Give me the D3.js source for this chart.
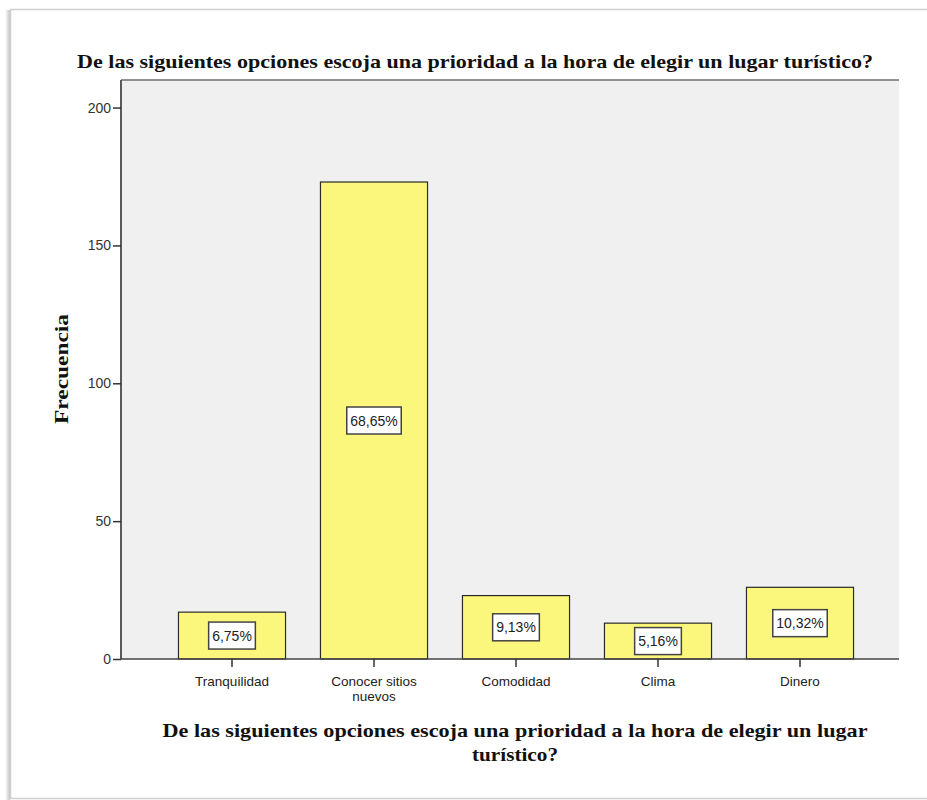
<!DOCTYPE html>
<html>
<head>
<meta charset="utf-8">
<script src="https://cdn.jsdelivr.net/npm/d3@7"></script>
<style>
  html, body { margin: 0; padding: 0; background: #fff; }
  svg { display: block; }
</style>
</head>
<body>
<svg id="chart" width="927" height="800"></svg>
<script>
// Frequency of each travel priority
const categories = ["Tranquilidad", "Conocer sitios nuevos", "Comodidad", "Clima", "Dinero"];
const categoryLines = [["Tranquilidad"], ["Conocer sitios", "nuevos"], ["Comodidad"], ["Clima"], ["Dinero"]];
const frequencies = [17, 173, 23, 13, 26];
const percentLabels = ["6,75%", "68,65%", "9,13%", "5,16%", "10,32%"];
const yTicks = [0, 50, 100, 150, 200];

const titleText = "De las siguientes opciones escoja una prioridad a la hora de elegir un lugar turístico?";
const xTitleLines = ["De las siguientes opciones escoja una prioridad a la hora de elegir un lugar", "turístico?"];
const yTitleText = "Frecuencia";

const svg = d3.select("#chart");

// card frame with soft left shadow
const defs = svg.append("defs");
const grad = defs.append("linearGradient").attr("id", "shadowL").attr("x1", 0).attr("x2", 1);
grad.append("stop").attr("offset", 0).attr("stop-color", "#ffffff");
grad.append("stop").attr("offset", 1).attr("stop-color", "#c4c4c4");
svg.append("rect").attr("x", 5).attr("y", 10).attr("width", 5).attr("height", 790).attr("fill", "url(#shadowL)");
svg.append("rect").attr("x", 10.5).attr("y", 9.5).attr("width", 930).attr("height", 789)
  .attr("fill", "#fff").attr("stroke", "#cfcfcf").attr("stroke-width", 1.5);

const plot = { left: 121, right: 899, top: 80, bottom: 659 };

const x = d3.scaleBand()
  .domain(categories)
  .range([161, 871])
  .paddingInner(0.246)
  .paddingOuter(0.123);

const y = d3.scaleLinear()
  .domain([0, 210])
  .range([plot.bottom, plot.top]);

// plot background
svg.append("rect")
  .attr("x", plot.left).attr("y", plot.top)
  .attr("width", plot.right - plot.left).attr("height", plot.bottom - plot.top)
  .attr("fill", "#f0f0f0");
svg.append("line")
  .attr("x1", plot.left).attr("x2", plot.right)
  .attr("y1", plot.top).attr("y2", plot.top)
  .attr("stroke", "#6e6e6e").attr("stroke-width", 1.5);

// bars
const bars = svg.append("g");
bars.selectAll("rect")
  .data(categories)
  .join("rect")
  .attr("x", d => x(d))
  .attr("y", (d, i) => y(frequencies[i]))
  .attr("width", x.bandwidth())
  .attr("height", (d, i) => y(0) - y(frequencies[i]))
  .attr("fill", "#fbf77c")
  .attr("stroke", "#2a2a2a")
  .attr("stroke-width", 1.2);

const sans = "Liberation Sans, Arial, sans-serif";
const serif = "Liberation Serif, Times New Roman, serif";

// y axis
const yAxis = d3.axisLeft(y).tickValues(yTicks).tickSize(8).tickPadding(2);
const gy = svg.append("g").attr("transform", `translate(${plot.left},0)`).call(yAxis);
gy.select(".domain").attr("d", `M0,${plot.top}V${plot.bottom}`).attr("stroke", "#5a5a5a").attr("stroke-width", 2);
gy.selectAll(".tick line").attr("stroke", "#333").attr("stroke-width", 1.5);
gy.selectAll(".tick text")
  .attr("font-family", sans)
  .attr("font-size", 14).attr("fill", "#333");

// x axis
const xAxis = d3.axisBottom(x).tickSize(8).tickFormat("");
const gx = svg.append("g").attr("transform", `translate(0,${plot.bottom})`).call(xAxis);
gx.select(".domain").attr("d", `M${plot.left},0H${plot.right}`).attr("stroke", "#444").attr("stroke-width", 1.5);
gx.selectAll(".tick line").attr("stroke", "#333").attr("stroke-width", 1.5);
gx.selectAll(".tick").each(function(d, i) {
  const t = d3.select(this).append("text")
    .attr("text-anchor", "middle")
    .attr("font-family", sans)
    .attr("font-size", 13.5).attr("fill", "#222");
  categoryLines[i].forEach((line, j) => {
    t.append("tspan").attr("x", 0).attr("y", 27 + j * 15).text(line);
  });
});

// value labels inside bars
const labels = svg.append("g");
categories.forEach((c, i) => {
  const cx = x(c) + x.bandwidth() / 2;
  let cy = (y(frequencies[i]) + y(0)) / 2;
  const h = 27;
  cy = Math.min(cy, y(0) - h / 2 - 2);
  const t = labels.append("text")
    .attr("x", cx).attr("y", cy + 5)
    .attr("text-anchor", "middle")
    .attr("font-family", sans)
    .attr("font-size", 14).attr("fill", "#222")
    .text(percentLabels[i]);
  const w = t.node().getComputedTextLength() + 7;
  labels.insert("rect", "text")
    .attr("x", cx - w / 2).attr("y", cy - h / 2)
    .attr("width", w).attr("height", h)
    .attr("fill", "#fff").attr("stroke", "#444").attr("stroke-width", 1.5);
});

// titles
svg.append("text")
  .attr("x", 77).attr("y", 68)
  .attr("font-family", serif)
  .attr("font-weight", "bold").attr("font-size", 19).attr("fill", "#111")
  .attr("textLength", 796).attr("lengthAdjust", "spacingAndGlyphs")
  .text(titleText);

svg.append("text")
  .attr("transform", "translate(68,369) rotate(-90)")
  .attr("text-anchor", "middle")
  .attr("font-family", serif)
  .attr("font-weight", "bold").attr("font-size", 19).attr("fill", "#111")
  .attr("textLength", 110).attr("lengthAdjust", "spacingAndGlyphs")
  .text(yTitleText);

const xTitleWidths = [705, 86];
xTitleLines.forEach((line, j) => {
  svg.append("text")
    .attr("x", 515).attr("y", 737 + j * 24)
    .attr("text-anchor", "middle")
    .attr("font-family", serif)
    .attr("font-weight", "bold").attr("font-size", 19).attr("fill", "#111")
    .attr("textLength", xTitleWidths[j]).attr("lengthAdjust", "spacingAndGlyphs")
    .text(line);
});
</script>
</body>
</html>
